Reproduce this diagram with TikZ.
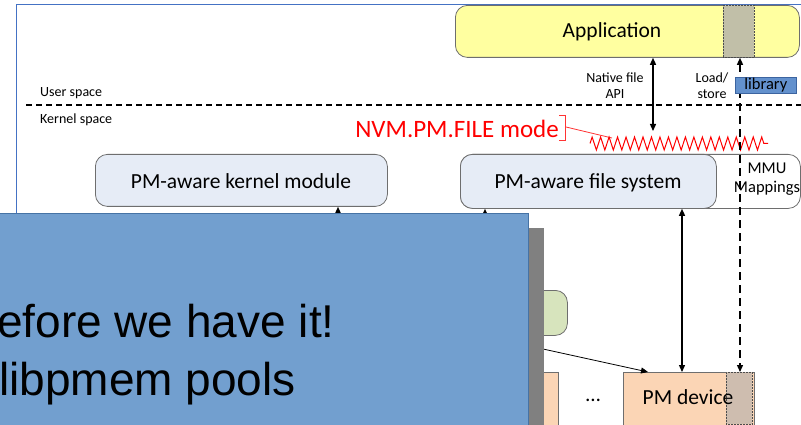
\documentclass[tikz,border=0pt]{standalone}
\usepackage{fontspec}
\setmainfont{Carlito}
\newfontfamily\arialf{Liberation Sans}
\usetikzlibrary{arrows.meta,decorations.pathmorphing}
\definecolor{frameblue}{RGB}{68,114,196}
\definecolor{appyellow}{RGB}{255,255,160}
\definecolor{bandgray}{RGB}{193,191,168}
\definecolor{kbox}{RGB}{230,236,246}
\definecolor{boxborder}{RGB}{110,110,110}
\definecolor{overlay}{RGB}{114,159,207}
\definecolor{overlayborder}{RGB}{70,115,165}
\definecolor{shadowgray}{RGB}{128,128,128}
\definecolor{peach}{RGB}{251,213,181}
\definecolor{pmband}{RGB}{206,189,175}
\definecolor{greenbox}{RGB}{215,228,189}
\definecolor{libblue}{RGB}{99,145,205}
\definecolor{libborder}{RGB}{60,100,160}
\begin{document}
\begin{tikzpicture}[x=1pt,y=-1pt,
  rbox/.style={draw=boxborder, line width=0.8pt, rounded corners=12pt, inner sep=0pt, anchor=north west},
  sqbox/.style={draw=boxborder, line width=0.7pt, inner sep=0pt, anchor=north west},
  band/.style={draw=black!70, densely dotted, line width=0.5pt, inner sep=0pt, anchor=north west},
  lbl/.style={inner sep=0pt, font=\fontsize{14}{16}\selectfont, align=center},
  biglbl/.style={inner sep=0pt, font=\fontsize{21.5}{24}\selectfont},
  arr/.style={line width=1.3pt, -{Triangle[width=6pt,length=7pt]}},
  darr/.style={line width=1.3pt, {Triangle[width=6pt,length=7pt]}-{Triangle[width=6pt,length=7pt]}},
  dasharr/.style={line width=1.3pt, dash pattern=on 8pt off 5pt, {Triangle[width=6pt,length=7pt]}-{Triangle[width=6pt,length=7pt]}}
]
\useasboundingbox (0,0) rectangle (801,425);
% frame
\draw[frameblue, line width=0.8pt] (16,213) -- (16,4) -- (801,4);
% user/kernel divider
\draw[line width=1.6pt, dash pattern=on 6pt off 4pt] (26,105) -- (801,105);
\node[lbl, anchor=west] (us) at (40,93) {User space};
\node[lbl, anchor=west] (ks) at (40,120) {Kernel space};
% application
\node[rbox, fill=appyellow, minimum width=344pt, minimum height=52pt] (app) at (455,5) {};
\node[band, fill=bandgray, minimum width=31pt, minimum height=52pt] (appband) at (723,5) {};
\node[biglbl] (apptext) at (612,32) {Application};
% MMU + file system
\node[rbox, fill=white, minimum width=340pt, minimum height=54pt] (mmu) at (460,154) {};
\node[lbl, font=\fontsize{16.5}{19}\selectfont, align=center] (mmutext) at (767,179) {MMU\\Mappings};
\node[rbox, fill=kbox, minimum width=256pt, minimum height=54pt] (fs) at (460,154) {};
\node[biglbl] (fstext) at (588,183) {PM-aware file system};
\node[rbox, fill=kbox, minimum width=292pt, minimum height=52pt] (km) at (95,154) {};
\node[biglbl] (kmtext) at (241,181) {PM-aware kernel module};
% native file API
\coordinate (natend) at (653,131);
\draw[darr] (app.south -| natend) -- (natend);
\node[lbl] (natlbl) at (615,86) {Native file\\API};
% NVM.PM.FILE mode
\node[inner sep=0pt, text=red, font=\fontsize{25}{28}\selectfont, anchor=east] (nvm) at (559,129) {NVM.PM.FILE mode};
\draw[red!80, line width=0.8pt] (559,115) -- (565,115) -- (565,140) -- (559,140);
\coordinate (wavestart) at (590,143.5);
\coordinate (waveend) at (768,143.5);
\draw[red!80, line width=0.8pt] (566,127) -- (612,138);
\draw[red, line width=1pt, decorate, decoration={zigzag, segment length=8.48pt, amplitude=6.5pt}] (wavestart) -- (waveend);
\node[lbl] (lslbl) at (712,86) {Load/\\store};
% green box and left peach box
\node[rbox, fill=greenbox, minimum width=60pt, minimum height=45pt] (green) at (507,290) {};
\node[sqbox, fill=peach, minimum width=40pt, minimum height=60pt] (peach1) at (518,372) {};
\node[inner sep=0pt, font=\fontsize{21}{24}\selectfont] (dots) at (593,400) {\dots};
% PM device
\node[sqbox, fill=peach, minimum width=131pt, minimum height=60pt] (pm) at (623,372) {};
\node[band, fill=pmband, minimum width=26pt, minimum height=52pt] (pmband) at (726,372) {};
\node[biglbl] (pmtext) at (688,397) {PM device};
% connectors
\draw[darr] (fs.south -| 682,0) -- (pm.north -| 682,0);
\draw[dasharr] (app.south -| 740,0) -- (pm.north -| 740,0);
\coordinate (kmsrc) at (338,240);
\draw[arr] (kmsrc) -- (km.south -| kmsrc);
\coordinate (fssrc) at (485,240);
\draw[arr] (fssrc) -- (fs.south -| fssrc);
\coordinate (pmsrc) at (543,349);
\draw[line width=0.8pt, -{Triangle[width=6pt,length=7pt]}] (pmsrc) -- (648,372);
% library (on top of the load/store line)
\node[draw=libborder, fill=libblue, line width=0.6pt, minimum width=61pt, minimum height=16pt, inner sep=0pt, anchor=north west, font=\fontsize{16.5}{18}\selectfont] (lib) at (735,77) {library};
% overlay slide box
\fill[shadowgray] (528,228) rectangle (544,426);
\node[draw=overlayborder, fill=overlay, line width=0.8pt, minimum width=529pt, minimum height=214pt, inner sep=0pt, anchor=north west] (ov) at (-1,213) {};
\node[inner sep=0pt, anchor=base west, font=\arialf\fontsize{46}{50}\selectfont] (t1) at (-3,337) {efore we have it!};
\node[inner sep=0pt, anchor=base west, font=\arialf\fontsize{46}{50}\selectfont] (t2) at (-1,395) {libpmem pools};
\end{tikzpicture}
\end{document}
